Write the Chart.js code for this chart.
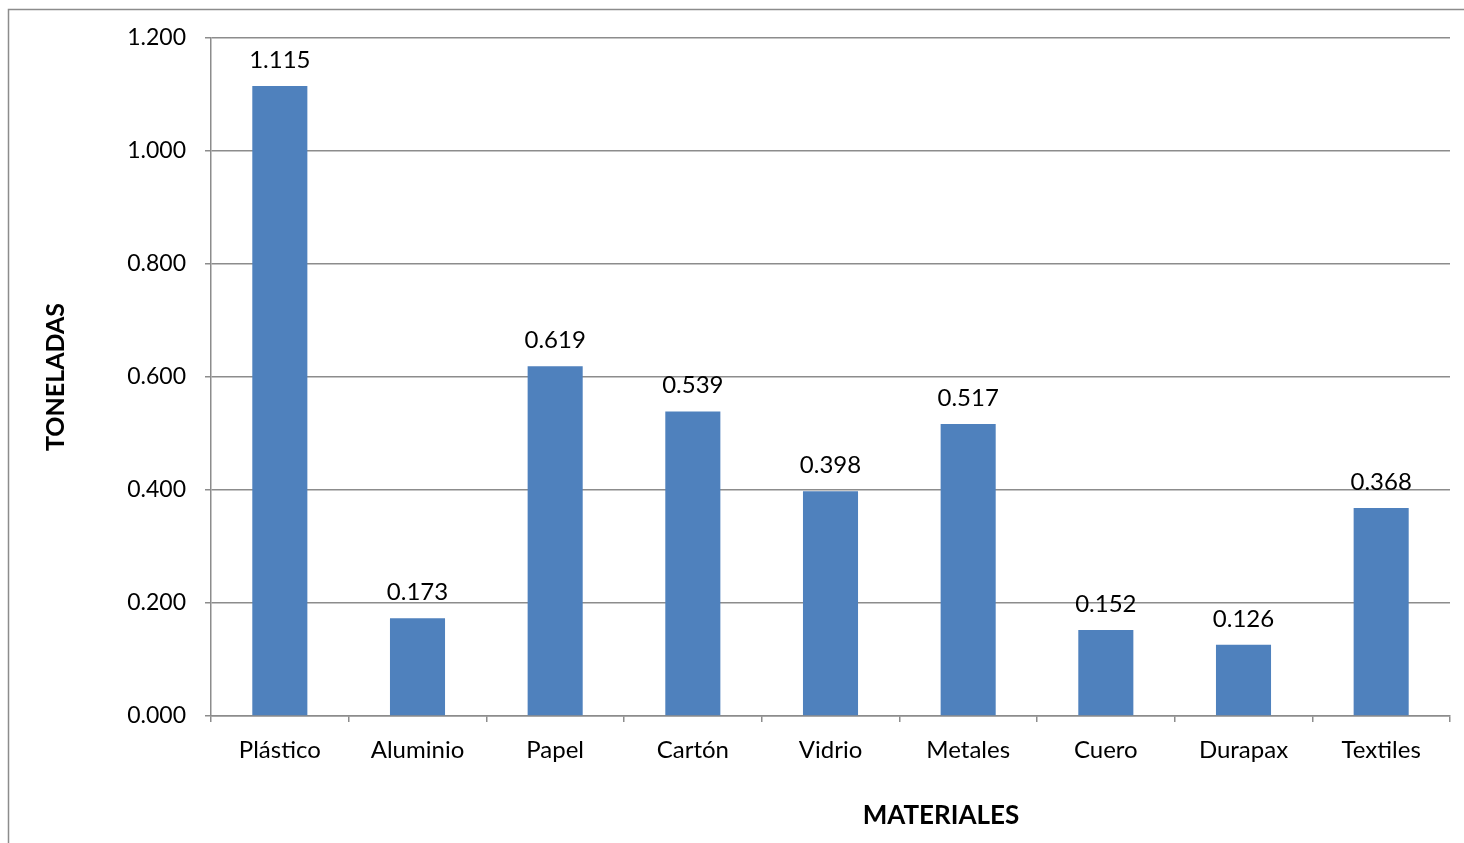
<!DOCTYPE html>
<html lang="es">
<head>
    <meta charset="UTF-8">
    <title>Toneladas por material</title>
    <script src="https://cdn.jsdelivr.net/npm/chart.js"></script>
    <style>
        html, body { margin: 0; padding: 0; background: #fff; }
        #chartBox { position: relative; width: 1464px; height: 843px; }
    </style>
</head>
<body>

<div id="chartBox">
    <canvas id="materialesChart" width="1464" height="843"></canvas>
</div>

<script>
  // Datos de la grafica
  const materiales = ['Plástico', 'Aluminio', 'Papel', 'Cartón', 'Vidrio', 'Metales', 'Cuero', 'Durapax', 'Textiles'];
  const toneladas = [1.115, 0.173, 0.619, 0.539, 0.398, 0.517, 0.152, 0.126, 0.368];
  const ticksY = [0, 0.2, 0.4, 0.6, 0.8, 1.0, 1.2];

  const FONT = 'Lato, "Open Sans", sans-serif';
  const GRIS = '#8c8c8c';

  // marco exterior, titulo del eje X y etiquetas de valor
  const extras = {
    id: 'extras',
    beforeDraw(chart) {
      const c = chart.ctx;
      c.save();
      c.strokeStyle = GRIS;
      c.lineWidth = 1.5;
      c.strokeRect(8.5, 9.5, 1600, 1000);
      c.restore();
    },
    afterDatasetsDraw(chart) {
      const c = chart.ctx;
      const meta = chart.getDatasetMeta(0);
      c.save();
      c.fillStyle = '#000';
      c.font = '24px ' + FONT;
      c.textAlign = 'center';
      c.textBaseline = 'bottom';
      meta.data.forEach((bar, i) => {
        c.fillText(toneladas[i].toFixed(3), bar.x, bar.y - 14);
      });
      c.font = 'bold 26px ' + FONT;
      c.textBaseline = 'middle';
      c.fillText('MATERIALES', 941, 816);
      c.restore();
    }
  };

  var ctx = document.getElementById('materialesChart').getContext('2d');
  var chart = new Chart(ctx, {
    type: 'bar',
    data: {
      labels: materiales,
      datasets: [{
        data: toneladas,
        backgroundColor: '#4f81bd',
        barPercentage: 0.4,
        categoryPercentage: 1.0
      }]
    },
    options: {
      responsive: false,
      animation: false,
      layout: { padding: { top: 38, right: 14, left: 0, bottom: 0 } },
      plugins: {
        legend: { display: false },
        tooltip: { enabled: false }
      },
      scales: {
        x: {
          grid: {
            offset: true,
            drawOnChartArea: false,
            drawTicks: true,
            tickLength: 6,
            color: GRIS,
            lineWidth: 1.5
          },
          border: { color: GRIS, width: 1.5 },
          ticks: {
            color: '#000',
            font: { family: FONT, size: 24 },
            padding: 14,
            maxRotation: 0
          },
          afterFit(scale) { scale.height = 127; }
        },
        y: {
          min: 0,
          max: 1.2,
          afterBuildTicks(scale) { scale.ticks = ticksY.map(v => ({ value: v })); },
          grid: {
            color: GRIS,
            lineWidth: 1.5,
            tickLength: 6
          },
          border: { color: GRIS, width: 1.5 },
          ticks: {
            color: '#000',
            font: { family: FONT, size: 23 },
            padding: 19,
            callback: v => v.toFixed(3)
          },
          title: {
            display: true,
            text: 'TONELADAS',
            color: '#000',
            font: { family: FONT, size: 25, weight: 'bold' },
            padding: { top: 41 }
          },
          afterFit(scale) { scale.width = 211; }
        }
      }
    },
    plugins: [extras]
  });
</script>

</body>
</html>
